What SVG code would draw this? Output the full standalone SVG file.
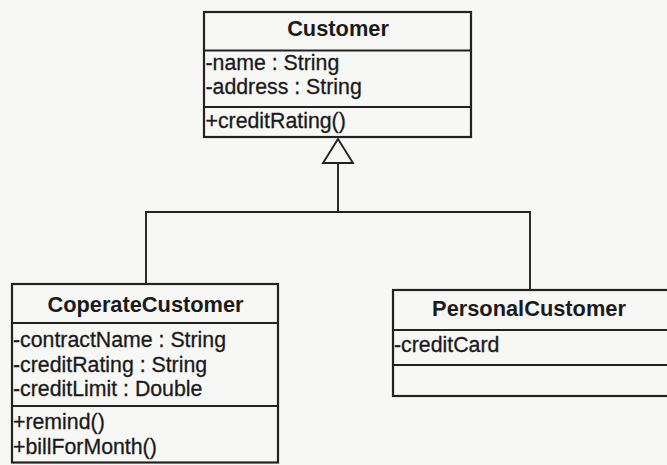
<svg xmlns="http://www.w3.org/2000/svg" width="667" height="465" viewBox="0 0 667 465">
  <style>
    .box { fill: #f7f7f5; stroke: #222; stroke-width: 2.2; }
    .div { stroke: #222; stroke-width: 2.2; }
    .conn { fill: none; stroke: #222; stroke-width: 1.9; }
    .title { font-family: "Liberation Sans", Arial, sans-serif; font-weight: bold; font-size: 21.8px; fill: #1a1a1a; text-anchor: middle; }
    .mem { font-family: "Liberation Sans", Arial, sans-serif; font-size: 21.3px; fill: #1a1a1a; stroke: #1a1a1a; stroke-width: 0.3; }
  </style>
  <rect x="0" y="0" width="667" height="465" fill="#f7f7f5"/>

  <!-- generalization connectors -->
  <g id="connectors">
    <polyline class="conn" points="146,284 146,212 530,212 530,290"/>
    <line class="conn" x1="338" y1="212" x2="338" y2="163"/>
    <polygon class="conn" points="338,139 323,163 353,163" fill="#f7f7f5"/>
  </g>

  <g id="Customer">
    <rect class="box" x="204" y="12" width="267" height="125"/>
    <line class="div" x1="204" y1="50.5" x2="471" y2="50.5"/>
    <line class="div" x1="204" y1="107" x2="471" y2="107"/>
    <text class="title" x="338" y="36">Customer</text>
    <text class="mem" x="205.5" y="70">-name : String</text>
    <text class="mem" x="205.5" y="94">-address : String</text>
    <text class="mem" x="205.5" y="128">+creditRating()</text>
  </g>

  <g id="CoperateCustomer">
    <rect class="box" x="12" y="284" width="266" height="178.5"/>
    <line class="div" x1="12" y1="323" x2="278" y2="323"/>
    <line class="div" x1="12" y1="406" x2="278" y2="406"/>
    <text class="title" x="145.5" y="312">CoperateCustomer</text>
    <text class="mem" x="13" y="347">-contractName : String</text>
    <text class="mem" x="13" y="372">-creditRating : String</text>
    <text class="mem" x="13" y="396">-creditLimit : Double</text>
    <text class="mem" x="13" y="428.5">+remind()</text>
    <text class="mem" x="13" y="453.5">+billForMonth()</text>
  </g>

  <g id="PersonalCustomer">
    <rect class="box" x="393" y="290" width="280" height="106"/>
    <line class="div" x1="393" y1="330" x2="673" y2="330"/>
    <line class="div" x1="393" y1="365" x2="673" y2="365"/>
    <text class="title" x="529" y="316">PersonalCustomer</text>
    <text class="mem" x="394" y="352">-creditCard</text>
  </g>
</svg>
